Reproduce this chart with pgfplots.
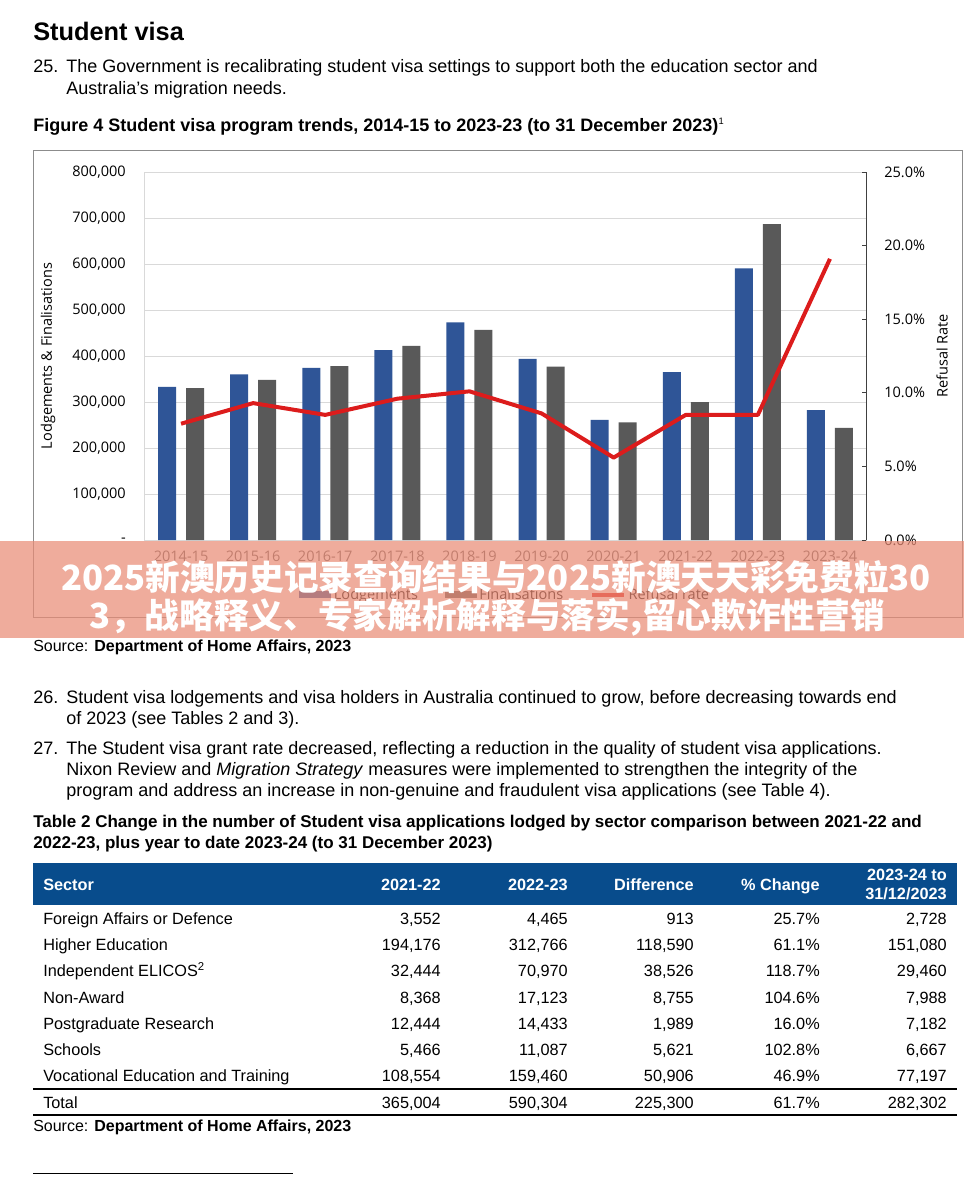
\documentclass[border=0pt]{standalone}
\usepackage{fontspec}
\setmainfont{Liberation Sans}
\newfontfamily\osans{Open Sans}
\newfontfamily\cjk{Noto Sans CJK SC}
\usepackage{pgfplots}
\pgfplotsset{compat=1.18}
\definecolor{barblue}{RGB}{47,85,151}
\definecolor{bargray}{RGB}{89,89,89}
\definecolor{linered}{RGB}{220,28,28}
\definecolor{hdrblue}{RGB}{8,76,140}
\definecolor{gridgray}{RGB}{217,217,217}
\definecolor{bannerc}{RGB}{234,140,118}
\newcommand\fs[1]{\fontsize{#1pt}{#1pt}\selectfont}
\begin{document}
\begin{tikzpicture}
\begin{scope}[x=0.75pt,y=-0.75pt]
\fill[white] (0,0) rectangle (964,1186);
\draw[black!45, line width=0.75pt] (33,150) rectangle (962,617);
\end{scope}

\begin{axis}[
  at={(108.75pt,-405pt)}, anchor=south west,
  scale only axis, width=540.75pt, height=276pt,
  xmin=-0.5, xmax=9.5, ymin=0, ymax=800000,
  scaled y ticks=false,
  xtick={0,...,9},
  xticklabels={2014-15,2015-16,2016-17,2017-18,2018-19,2019-20,2020-21,2021-22,2022-23,2023-24},
  ytick={0,100000,200000,300000,400000,500000,600000,700000,800000},
  yticklabels={{-\hspace{8pt}},{100,000},{200,000},{300,000},{400,000},{500,000},{600,000},{700,000},{800,000}},
  ymajorgrids, grid style={gridgray, line width=0.75pt},
  axis line style={gridgray, line width=0.75pt},
  major tick length=0pt,
  tick label style={font=\osans\fs{10.9}, text=black, inner sep=0pt},
  yticklabel style={anchor=east, xshift=-14.25pt},
  xticklabel style={anchor=north, yshift=-8.25pt, text=bargray},
  ylabel={Lodgements \& Finalisations},
  ylabel style={font=\osans\fs{10.9}, at={([xshift=-72.75pt]axis description cs:0,0.5)}, anchor=center},
  legend style={at={([yshift=-41pt]axis description cs:0.5,0)}, anchor=center, draw=none, fill=none,
    font=\osans\fs{10.9}, /tikz/every even column/.append style={column sep=18pt}},
  legend columns=3,
]
\addplot[ybar, bar width=13.5pt, bar shift=-10.5pt, fill=barblue, draw=none,
  legend image code/.code={\fill[barblue] (0pt,-2.6pt) rectangle (24pt,2.6pt);}]
  coordinates {(0,333000) (1,360000) (2,374000) (3,413000) (4,473000) (5,394000) (6,261000) (7,365004) (8,590304) (9,282302)};
\addlegendentry{Lodgements}
\addplot[ybar, bar width=13.5pt, bar shift=10.5pt, fill=bargray, draw=none,
  legend image code/.code={\fill[bargray] (0pt,-2.6pt) rectangle (24pt,2.6pt);}]
  coordinates {(0,330000) (1,348000) (2,378000) (3,422000) (4,457000) (5,377000) (6,256000) (7,300000) (8,687000) (9,244000)};
\addlegendentry{Finalisations}
\addlegendimage{legend image code/.code={\draw[linered, line width=3pt] (0pt,0pt) -- (24pt,0pt);}}
\addlegendentry{Refusal rate}
\end{axis}

\begin{axis}[
  at={(108.75pt,-405pt)}, anchor=south west,
  scale only axis, width=540.75pt, height=276pt,
  xmin=-0.5, xmax=9.5, ymin=0, ymax=25,
  axis y line*=right, axis x line=none,
  ytick={0,5,10,15,20,25},
  yticklabels={0.0\%,5.0\%,10.0\%,15.0\%,20.0\%,25.0\%},
  axis line style={black!75, line width=0.75pt},
  major tick length=3pt, tick align=inside, tick style={black!75, line width=0.75pt},
  tick label style={font=\osans\fs{10.9}, text=black, inner sep=0pt},
  yticklabel style={anchor=west, xshift=13.5pt},
  ylabel={Refusal Rate},
  ylabel style={font=\osans\fs{10.9}, at={([xshift=57pt]axis description cs:1,0.5)}, anchor=center},
]
\addplot[linered, line width=3pt, line join=round] coordinates {(0,7.9) (1,9.3) (2,8.5) (3,9.6) (4,10.1) (5,8.6) (6,5.6) (7,8.5) (8,8.5) (9,19.1)};
\end{axis}

\begin{scope}[x=0.75pt,y=-0.75pt, every node/.style={inner sep=0pt, anchor=base west}]
\node[font=\bfseries\fs{19}] at (33,40) {Student visa};
\node[font=\fs{13.5}] at (33,72) {25.};
\node[font=\fs{13.5}] at (66,72) {The Government is recalibrating student visa settings to support both the education sector and};
\node[font=\fs{13.5}] at (66,94) {Australia's migration needs.};
\node[font=\bfseries\fs{13.5}] at (33,131) {Figure 4 Student visa program trends, 2014-15 to 2023-23 (to 31 December 2023)\textsuperscript{\mdseries\fs{7}1}};
\node[font=\fs{12}] at (33,651) {Source: \textbf{Department of Home Affairs, 2023}};
\node[font=\fs{13.5}] at (33,703) {26.};
\node[font=\fs{13.5}] at (66,703) {Student visa lodgements and visa holders in Australia continued to grow, before decreasing towards end};
\node[font=\fs{13.5}] at (66,724) {of 2023 (see Tables 2 and 3).};
\node[font=\fs{13.5}] at (33,754) {27.};
\node[font=\fs{13.5}] at (66,754) {The Student visa grant rate decreased, reflecting a reduction in the quality of student visa applications.};
\node[font=\fs{13.5}] at (66,775) {Nixon Review and \textit{Migration Strategy} measures were implemented to strengthen the integrity of the};
\node[font=\fs{13.5}] at (66,796) {program and address an increase in non-genuine and fraudulent visa applications (see Table 4).};
\node[font=\bfseries\fs{12.75}] at (33,827) {Table 2 Change in the number of Student visa applications lodged by sector comparison between 2021-22 and};
\node[font=\bfseries\fs{12.75}] at (33,848) {2022-23, plus year to date 2023-24 (to 31 December 2023)};
% table header
\fill[hdrblue] (33,863) rectangle (957,905);
\begin{scope}[every node/.append style={font=\bfseries\fs{12.2}, text=white}]
\node at (43,890) {Sector};
\node[anchor=base east] at (441,890) {2021-22};
\node[anchor=base east] at (568,890) {2022-23};
\node[anchor=base east] at (694,890) {Difference};
\node[anchor=base east] at (820,890) {\% Change};
\node[anchor=base east] at (947,880) {2023-24 to};
\node[anchor=base east] at (947,899) {31/12/2023};
\end{scope}
\begin{scope}[every node/.append style={font=\fs{12.2}}]
\foreach \yy/\s/\a/\b/\c/\d/\e in {
  924/Foreign Affairs or Defence/{3,552}/{4,465}/913/25.7\%/{2,728},
  950/Higher Education/{194,176}/{312,766}/{118,590}/61.1\%/{151,080},
  976/Independent ELICOS\textsuperscript{2}/{32,444}/{70,970}/{38,526}/118.7\%/{29,460},
  1003/Non-Award/{8,368}/{17,123}/{8,755}/104.6\%/{7,988},
  1029/Postgraduate Research/{12,444}/{14,433}/{1,989}/16.0\%/{7,182},
  1055/Schools/{5,466}/{11,087}/{5,621}/102.8\%/{6,667},
  1081/Vocational Education and Training/{108,554}/{159,460}/{50,906}/46.9\%/{77,197},
  1108/Total/{365,004}/{590,304}/{225,300}/61.7\%/{282,302}}{
  \node at (43,\yy) {\s};
  \node[anchor=base east] at (441,\yy) {\a};
  \node[anchor=base east] at (568,\yy) {\b};
  \node[anchor=base east] at (694,\yy) {\c};
  \node[anchor=base east] at (820,\yy) {\d};
  \node[anchor=base east] at (947,\yy) {\e};
}
\end{scope}
\draw[black, line width=0.9pt] (33,1089) -- (957,1089);
\draw[black, line width=0.9pt] (33,1115) -- (957,1115);
\node[font=\fs{12}] at (33,1131) {Source: \textbf{Department of Home Affairs, 2023}};
\draw[black, line width=0.6pt] (33,1173) -- (293,1173);
% banner overlay
\fill[bannerc, opacity=0.72] (0,541) rectangle (964,638);
\node[anchor=center, font=\cjk\bfseries\fs{26}, text=white] at (496,577) {2025新澳历史记录查询结果与2025新澳天天彩免费粒30};
\node[anchor=center, font=\cjk\bfseries\fs{26}, text=white] at (487,617) {3，战略释义、专家解析解释与落实,留心欺诈性营销};
\end{scope}
\end{tikzpicture}
\end{document}
